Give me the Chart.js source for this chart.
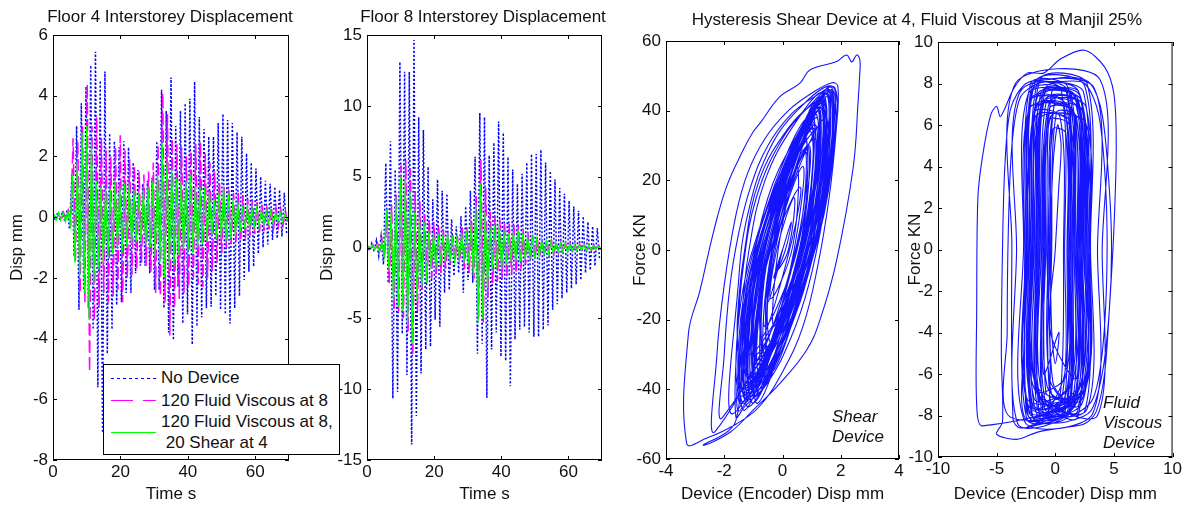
<!DOCTYPE html>
<html>
<head>
<meta charset="utf-8">
<script src="https://cdn.jsdelivr.net/npm/chart.js@4.4.1/dist/chart.umd.min.js"></script>
<style>
  body { margin: 0; width: 1184px; height: 505px; background: #fff; position: relative; overflow: hidden;
         font-family: 'Liberation Sans', Arial, sans-serif; color: #111; }
  canvas { position: absolute; top: 0; }
  .txt { position: absolute; font-size: 17px; line-height: 20px; white-space: nowrap; transform: translate(-50%, -50%); }
  .note { position: absolute; font-size: 17px; line-height: 20px; font-style: italic; white-space: nowrap; }
  #legend { position: absolute; left: 103px; top: 364px; width: 237px; height: 91px; box-sizing: border-box;
            border: 1px solid #000; background: #fff; z-index: 5; font-size: 17px; }
  #legend svg { position: absolute; left: 0; top: 0; }
  #legend span { position: absolute; left: 57px; white-space: nowrap; line-height: 20px; }
</style>
</head>
<body>
<canvas id="floor4" width="300" height="505" style="left:0px"></canvas>
<canvas id="floor8" width="314" height="505" style="left:300px"></canvas>
<canvas id="shear" width="297" height="505" style="left:611px"></canvas>
<canvas id="viscous" width="284" height="505" style="left:900px"></canvas>

<div class="txt" style="left:170px; top:17px">Floor 4 Interstorey Displacement</div>
<div class="txt" style="left:483px; top:17px">Floor 8 Interstorey Displacement</div>
<div class="txt" style="left:917px; top:20px">Hysteresis Shear Device at 4, Fluid Viscous at 8 Manjil 25%</div>
<div class="note" style="left:832px; top:407px">Shear<br>Device</div>
<div class="note" style="left:1103px; top:393px">Fluid<br>Viscous<br>Device</div>

<div id="legend">
  <svg width="235" height="89">
    <line x1="7" y1="13.5" x2="52" y2="13.5" stroke="#0000ff" stroke-width="1" stroke-dasharray="3 3"/>
    <line x1="7" y1="35.5" x2="52" y2="35.5" stroke="#ff00ff" stroke-width="1" stroke-dasharray="22 10"/>
    <line x1="7" y1="67.5" x2="52" y2="67.5" stroke="#00ff00" stroke-width="1"/>
  </svg>
  <span style="top:3px">No Device</span>
  <span style="top:26px">120 Fluid Viscous at 8</span>
  <span style="top:47px">120 Fluid Viscous at 8,</span>
  <span style="top:68px">&nbsp;20 Shear at 4</span>
</div>

<script>
// time base: peaks every half cycle
const halfCycle = 0.7;

const timeTicks = [0, 20, 40, 60];
const floor4Ticks = [-8, -6, -4, -2, 0, 2, 4, 6];
const floor8Ticks = [-15, -10, -5, 0, 5, 10, 15];
const shearDispTicks = [-4, -2, 0, 2, 4];
const shearForceTicks = [-60, -40, -20, 0, 20, 40, 60];
const viscDispTicks = [-10, -5, 0, 5, 10];
const viscForceTicks = [-10, -8, -6, -4, -2, 0, 2, 4, 6, 8, 10];

// Floor 4 interstorey displacement (mm), alternating peaks
const floor4NoDevice = [
  0.1, -0.1, 0.15, -0.1, 0.2, -0.15, 0.25, -0.4, 1.4, -1.3,
  3.0, -3.05, 3.75, -2.4, 4.3, -3.0, 5.0, -3.7, 5.45, -5.6,
  4.5, -7.1, 4.8, -4.5, 2.76, -3.7, 2.5, -2.9, 2.3, -2.8,
  2.5, -2.5, 2.3, -2.5, 1.8, -1.85, 1.55, -1.6, 1.1, -1.6,
  1.2, -1.85, 1.3, -2.4, 2.5, -2.4, 4.2, -3.0, 3.5, -3.8,
  4.6, -4.05, 3.0, -2.3, 3.5, -3.5, 3.75, -3.2, 3.9, -4.2,
  4.46, -3.6, 3.3, -3.3, 2.9, -3.0, 2.65, -2.95, 2.65, -2.6,
  3.1, -3.05, 3.4, -3.2, 3.2, -3.5, 3.1, -3.0, 2.8, -2.6,
  2.65, -2.07, 2.1, -1.8, 1.8, -1.63, 1.6, -1.2, 1.33, -1.0,
  1.2, -0.9, 1.1, -0.75, 1.0, -0.7, 0.9, -0.64, 0.8, -0.53
];
const floor4Viscous = [
  0.05, -0.05, 0.1, -0.1, 0.15, -0.1, 0.2, -0.3, 2.6, -1.5,
  2.5, -2.5, 3.0, -2.8, 4.4, -5.1, 3.0, -3.4, 3.3, -3.0,
  2.6, -2.5, 2.2, -2.8, 2.0, -2.6, 2.3, -2.4, 2.7, -2.8,
  2.2, -2.0, 1.9, -1.9, 1.7, -1.7, 1.5, -1.5, 1.4, -1.6,
  1.5, -1.8, 1.8, -2.5, 2.4, -2.6, 4.1, -2.8, 3.4, -3.9,
  2.6, -3.0, 2.4, -2.7, 2.3, -2.5, 2.0, -2.3, 2.2, -2.0,
  2.4, -2.2, 2.5, -2.3, 2.1, -2.0, 1.8, -1.8, 1.5, -1.5,
  1.2, -1.2, 1.0, -1.0, 0.9, -0.9, 0.8, -0.8, 0.8, -0.8,
  0.7, -0.7, 0.6, -0.6, 0.55, -0.55, 0.5, -0.5, 0.45, -0.45,
  0.4, -0.4, 0.35, -0.35, 0.3, -0.3, 0.25, -0.25, 0.2, -0.2
];
const floor4ViscousShear = [
  0.1, -0.1, 0.15, -0.1, 0.15, -0.15, 0.2, -0.25, 1.4, -1.5,
  1.8, -2.0, 2.8, -2.5, 3.0, -3.4, 2.5, -2.2, 1.2, -1.7,
  1.0, -1.5, 0.9, -1.3, 0.9, -1.2, 1.2, -1.0, 1.0, -1.2,
  1.1, -1.0, 1.1, -0.9, 0.9, -0.8, 0.8, -0.8, 0.9, -0.9,
  1.0, -1.0, 1.2, -1.3, 1.4, -1.5, 2.4, -2.0, 1.8, -1.7,
  1.6, -1.6, 1.3, -1.2, 1.2, -1.1, 1.2, -1.1, 1.4, -1.2,
  1.0, -1.0, 1.0, -0.9, 1.0, -0.8, 0.8, -0.6, 0.6, -0.7,
  0.8, -0.7, 1.0, -0.8, 0.8, -0.7, 0.6, -0.6, 0.5, -0.5,
  0.4, -0.4, 0.35, -0.35, 0.3, -0.3, 0.3, -0.3, 0.25, -0.25,
  0.2, -0.2, 0.2, -0.2, 0.15, -0.15, 0.15, -0.15, 0.1, -0.1
];

// Floor 8 interstorey displacement (mm), alternating peaks
const floor8NoDevice = [
  0.2, -0.2, 0.3, -0.3, 0.5, -0.6, 0.8, -1.2, 5.95, -2.5,
  7.5, -10.65, 5.5, -10.2, 13.1, -6.1, 12.4, -9.0, 12.4, -13.9,
  14.65, -11.9, 9.2, -8.9, 8.3, -7.2, 5.7, -7.0, 3.4, -5.1,
  4.8, -5.6, 4.0, -3.2, 3.8, -3.0, 2.0, -2.0, 1.5, -1.8,
  2.2, -3.2, 2.9, -2.3, 4.0, -2.5, 6.4, -7.5, 9.5, -6.8,
  9.2, -10.6, 6.5, -7.2, 7.4, -6.0, 8.9, -7.7, 8.1, -8.0,
  6.4, -9.8, 5.5, -6.5, 4.5, -5.8, 5.2, -5.6, 6.0, -6.0,
  6.6, -6.3, 6.6, -6.3, 6.9, -5.8, 6.0, -5.5, 5.4, -4.4,
  4.8, -4.0, 4.2, -3.6, 3.8, -3.2, 3.3, -2.9, 2.9, -2.6,
  2.6, -2.3, 2.2, -1.8, 1.8, -1.6, 1.5, -1.3, 1.35, -0.9
];
const floor8Viscous = [
  0.1, -0.1, 0.2, -0.2, 0.3, -0.4, 0.5, -0.8, 2.7, -2.5,
  3.0, -4.5, 3.8, -4.5, 5.8, -5.0, 6.2, -6.0, 5.5, -7.5,
  3.9, -4.5, 3.2, -3.0, 2.5, -2.5, 2.0, -2.2, 1.8, -2.0,
  1.6, -1.8, 1.3, -1.5, 1.0, -1.2, 0.9, -1.0, 0.8, -1.0,
  1.5, -1.5, 1.5, -1.8, 2.0, -2.2, 3.6, -4.9, 6.2, -5.3,
  4.2, -3.5, 2.5, -2.5, 2.2, -2.4, 2.0, -2.2, 1.8, -2.0,
  1.7, -1.9, 1.6, -1.8, 1.5, -1.5, 1.2, -1.2, 1.0, -1.0,
  0.8, -0.8, 0.6, -0.6, 0.55, -0.55, 0.5, -0.5, 0.45, -0.45,
  0.4, -0.4, 0.35, -0.35, 0.3, -0.3, 0.3, -0.3, 0.25, -0.25,
  0.25, -0.25, 0.2, -0.2, 0.2, -0.2, 0.15, -0.15, 0.15, -0.15
];
const floor8ViscousShear = [
  0.1, -0.1, 0.15, -0.15, 0.2, -0.3, 0.4, -0.6, 2.7, -1.5,
  2.5, -3.8, 3.5, -4.2, 5.0, -4.5, 4.8, -5.5, 4.0, -6.8,
  2.5, -3.8, 2.2, -2.8, 1.8, -2.5, 1.2, -1.5, 1.0, -1.5,
  1.0, -1.2, 0.9, -1.0, 1.0, -1.0, 0.8, -0.9, 0.7, -0.8,
  1.0, -1.0, 1.2, -1.2, 1.6, -2.0, 3.0, -5.3, 4.5, -5.0,
  2.5, -2.8, 1.5, -1.5, 1.6, -1.5, 1.6, -1.5, 1.2, -1.2,
  1.0, -1.0, 1.1, -1.0, 1.3, -1.0, 1.0, -0.8, 0.8, -0.7,
  0.7, -0.6, 0.6, -0.6, 0.5, -0.5, 0.45, -0.45, 0.4, -0.4,
  0.35, -0.35, 0.3, -0.3, 0.3, -0.3, 0.25, -0.25, 0.2, -0.2,
  0.2, -0.2, 0.2, -0.2, 0.15, -0.15, 0.15, -0.15, 0.1, -0.1
];

// Shear device trace: [disp mm, force kN]
const shearLoop = [
  [0, 0], [0.3, 8], [0.1, 0], [-0.3, -8], [0, 0],
  [-0.5, -15], [-0.35, 0], [0.6, 18], [0.3, 2],
  [-0.7, -25], [-0.55, -2], [0.8, 28], [0.5, 2],
  [-0.9, -32], [-0.65, 0], [1.0, 35], [0.6, 0],
  [-1.1, -38], [-0.85, -5], [1.2, 40], [0.8, 5],
  [-1.3, -41], [-1.0, -3], [1.4, 43], [0.9, 3],
  [-1.0, -44], [-0.75, 0], [1.5, 45], [1.1, 0],
  [-0.8, -40], [-0.55, -4], [1.3, 42], [1.0, 4],
  [-1.2, -36], [-0.95, 0], [0.9, 38], [0.7, 0],
  [-0.6, -30], [-0.45, 0], [1.1, 32], [0.8, -2],
  [-1.4, -42], [-1.1, -2], [1.6, 46], [1.2, 3],
  [-0.95, -41], [-0.7, -3], [1.3, 44], [0.95, 2],
  [-1.1, -43], [-0.85, -1], [1.45, 45], [1.05, 3],
  [-0.75, -36], [-0.5, -1], [1.15, 38], [0.8, 2],
  [-1.2, -42], [-0.9, -4], [1.5, 44], [1.1, 5],
  [-0.55, -31], [-0.35, 1], [0.95, 34], [0.65, 0],
  [-1.7, -47], [-1.5, -8], [-1.2, 10], [-0.5, 28], [0.5, 40], [1.7, 47], [1.75, 35], [1.5, 15], [1.1, 0],
  [-0.4, -35], [-0.3, 3], [1.0, 40], [0.75, -3],
  [-1.35, -40], [-1.05, -2], [1.25, 41], [0.9, 3],
  [-0.85, -44], [-0.6, -5], [1.55, 46], [1.15, 4],
  [-2.05, -48], [-2.0, -30], [-1.8, -10], [-1.5, 5], [-1.1, 18], [-0.5, 30], [0.3, 39], [1.1, 44], [1.8, 46.5],
  [1.75, 30], [1.4, 10], [0.9, -10], [0.3, -25], [-0.5, -38], [-1.3, -45],
  [-1.6, -48], [-1.55, -25], [-1.35, -5], [-0.9, 15], [0.0, 32], [1.0, 42], [1.6, 46], [1.5, 28], [1.1, 8],
  [0.5, -12], [-0.4, -30],
  [-1.0, -35], [-0.75, 0], [1.0, 37], [0.7, 1],
  [-2.3, -52], [-2.25, -30], [-2.0, -10], [-1.6, 10], [-1.2, 22], [-0.6, 32], [0.2, 40], [1.0, 45], [1.7, 48],
  [1.9, 47], [1.85, 35], [1.6, 15], [1.2, -5], [0.7, -22], [0.0, -35], [-0.8, -45], [-1.6, -50], [-2.6, -54],
  [-3.29, -55.5], [-3.23, -24], [-2.83, -11.5], [-2.38, 4.8], [-1.92, 18.2], [-1.35, 28.7], [-1.0, 34],
  [-0.77, 36.4], [-0.09, 44], [0.6, 47.9], [0.94, 51.7], [1.86, 54.1], [2.2, 56], [2.38, 54], [2.55, 56],
  [2.66, 54.4], [2.64, 48.8], [2.6, 43.1], [2.43, 23.9], [1.86, -2.9], [1.29, -20], [0.83, -28.7],
  [-0.09, -38.3], [-1.0, -45.9], [-1.8, -52.3], [-2.72, -56],
  [-1.6, -49], [-1.55, -20], [-1.3, 0], [-0.8, 20], [0.2, 35], [1.2, 43], [1.7, 45], [1.6, 25], [1.2, 5],
  [0.6, -15], [-0.3, -32], [-1.0, -42],
  [-0.65, -39], [-0.4, -2], [1.4, 42], [1.05, 1],
  [-1.15, -45], [-0.9, -6], [1.6, 47], [1.2, 5],
  [-0.9, -42], [-0.6, -6], [1.45, 38], [1.05, 4],
  [-1.15, -30], [-0.8, 2], [0.7, 34], [0.55, -1],
  [-1.45, -46], [-1.4, -20], [-1.15, 0], [-0.6, 20], [0.4, 36], [1.4, 45], [1.35, 25], [0.9, 3], [0.2, -18],
  [-0.45, -26], [-0.3, 0], [0.75, 29], [0.5, 1],
  [-1.25, -43], [-1.0, -3], [1.35, 43], [1.0, 4],
  [-1.4, -44], [-1.1, -10], [-0.5, 15], [0.5, 33], [1.4, 44], [1.3, 20], [0.8, 0], [0.1, -20],
  [-0.7, -38], [-0.45, 1], [1.25, 44], [0.95, -2],
  [-0.9, -38], [-0.65, -1], [1.2, 40], [0.85, 2],
  [-1.3, -44], [-1.05, -4], [1.2, 35], [0.85, 6],
  [-1.05, -42], [-0.8, -4], [1.5, 45], [1.1, 3],
  [-1.2, -40], [-0.9, -15], [-0.3, 10], [0.6, 30], [1.3, 40], [1.0, 15], [0.5, -5], [-0.3, -25],
  [-0.7, -33], [-0.5, 0], [1.05, 35], [0.75, 1],
  [-0.5, -28], [-0.25, 0], [0.85, 30], [0.6, 1],
  [-1.3, -46], [-1.05, -5], [1.65, 46], [1.25, 4],
  [-1.05, -40], [-0.8, -1], [1.35, 41], [1.0, 2],
  [-0.8, -41], [-0.55, -2], [1.3, 43], [0.95, 2],
  [-0.8, -33], [-0.6, -2], [0.95, 36], [0.7, 3],
  [-1.0, -39], [-0.7, -1], [1.15, 41], [0.8, 3],
  [-1.25, -39], [-0.95, -3], [1.1, 39], [0.8, 4],
  [-1.0, -37], [-0.7, -2], [1.1, 36], [0.7, 2],
  [-0.9, -30], [-0.5, 0], [0.9, 30], [0.5, 0],
  [-0.6, -22], [-0.3, 0], [0.7, 24], [0.4, 0],
  [-0.3, -22], [-0.15, 0], [0.5, 24], [0.35, 1],
  [-0.4, -14], [-0.2, 0], [0.4, 15], [0.2, 0],
  [-0.2, -6], [0, 0]
];

// Fluid viscous device trace: [disp mm, force kN]
const viscousLoop = [
  [0, 0], [0.3, 3], [0.5, 5], [0.2, 6], [-0.2, 4], [-0.4, 0], [-0.3, -4], [0, -5.5], [0.3, -4],
  [-1.0, -6.0], [-1.1, 0.2], [-0.7, 6.5], [1.0, 6.2], [1.2, -0.3], [0.9, -6.1],
  [-1.5, -6.8], [-1.6, 0.0], [-1.2, 7.0], [1.3, 6.8], [1.6, 0.1], [1.3, -6.6],
  [-1.8, -7.2], [-1.9, 0.3], [-1.5, 7.5], [1.7, 7.3], [2.0, -0.2], [1.7, -7.0],
  [-1.4, -7.3], [-1.5, 0.1], [-1.1, 7.1], [1.8, 6.9], [2.1, 0.0], [1.8, -7.1],
  [-2.2, -7.8], [-2.3, 0.1], [-1.9, 7.8], [2.0, 7.6], [2.3, 0.0], [2.0, -7.5],
  [-0.7, -6.6], [-0.8, 0.0], [-0.4, 6.4], [2.2, 6.2], [2.5, -0.1], [2.2, -6.4],
  [-1.2, -7.6], [-1.3, 0.2], [-0.9, 7.2], [2.3, 7.0], [2.6, -0.1], [2.3, -7.4],
  [-2.2, -7.9], [-2.3, -0.1], [-1.9, 7.7], [1.3, 7.5], [1.6, 0.1], [1.3, -7.7],
  [-2.4, -8.2], [-2.5, 0.0], [-2.1, 8.0], [1.1, 7.8], [1.4, 0.2], [1.1, -8.0],
  [-1.9, -8.1], [-2.0, 0.2], [-1.6, 7.0], [0.8, 6.8], [1.1, 0.0], [0.8, -7.9],
  [-2.0, -8.0], [-2.1, -0.2], [-1.7, 8.1], [2.5, 7.9], [2.8, 0.1], [2.5, -7.8],
  [-1.1, -7.0], [-1.2, -0.1], [-0.8, 7.8], [2.4, 7.6], [2.7, 0.1], [2.4, -6.8],
  [-0.8, -7.4], [-0.9, 0.1], [-0.5, 6.8], [1.6, 6.6], [1.9, -0.2], [1.6, -7.2],
  [-2.5, -8.2], [-2.6, -4], [-2.4, 2], [-2.0, 6], [-1.0, 7.5], [0.5, 7.8], [2.0, 7.6], [2.8, 5], [3.0, 1],
  [2.9, -3], [2.4, -6.5], [1.3, -7.8], [-0.3, -8.0], [-1.8, -8.3],
  [-2.5, -7.7], [-2.6, 0.0], [-2.2, 6.8], [1.6, 6.6], [1.9, -0.1], [1.6, -7.5],
  [-4.0, -8.0], [-4.1, -4], [-4.0, 1], [-3.7, 5], [-3.0, 7.3], [-1.5, 8.0], [0.5, 8.1], [2.5, 8.0], [3.7, 6.5],
  [4.3, 3], [4.4, -1], [4.0, -5], [3.2, -7.2], [1.5, -8.0], [-0.5, -8.2], [-2.5, -8.6],
  [-0.6, -7.9], [-0.7, 0.1], [-0.3, 7.6], [1.4, 7.4], [1.7, 0.0], [1.4, -7.7],
  [-3.2, -8.4], [-3.3, 0.0], [-3.0, 7.6], [3.3, 7.8], [3.6, 0.0], [3.2, -7.9],
  [-2.6, -8.3], [-2.7, 0.2], [-2.3, 7.5], [1.9, 7.3], [2.2, 0.0], [1.9, -8.1],
  [-1.6, -6.9], [-1.7, 0.0], [-1.3, 6.3], [2.6, 6.1], [2.9, 0.1], [2.6, -6.7],
  [-1.6, -7.9], [-1.7, -0.1], [-1.3, 8.2], [2.7, 8.0], [3.0, 0.2], [2.7, -7.7],
  [-2.3, -7.5], [-2.4, 0.1], [-2.0, 7.9], [0.5, 7.7], [0.8, -0.1], [0.5, -7.3],
  [-2.3, -8.0], [-2.4, 0.0], [-2.0, 7.3], [0.7, 7.1], [1.0, -0.1], [0.7, -7.8],
  [-1.0, -8.0], [-1.1, 0.0], [-0.7, 7.3], [1.9, 7.1], [2.2, 0.1], [1.9, -7.8],
  [-1.3, -7.1], [-1.4, 0.1], [-1.0, 7.6], [2.1, 7.4], [2.4, 0.0], [2.1, -6.9],
  [-6.2, -8.5], [-6.7, -7.5], [-6.7, -3], [-6.6, 2.5], [-6.2, 4.5], [-5.5, 6.5], [-5.0, 6.9], [-4.7, 6.4],
  [-4.3, 6.8], [-3.5, 7.8], [-2.4, 8.5], [-1.0, 8.5], [0.5, 9.2], [2.5, 9.6], [4.2, 8.8], [5.0, 7.5],
  [5.2, 5], [5.0, 1], [4.6, -3], [4.2, -6], [3.5, -7.8], [2.5, -8.4], [0.5, -8.6], [-1.5, -8.8],
  [-3.3, -9.15], [-5.0, -8.9],
  [-4.5, -8.3], [-4.6, -5], [-4.5, 0], [-4.3, 4], [-3.8, 6.8], [-2.5, 8.0], [-0.5, 8.2], [1.5, 8.3],
  [3.0, 8.0], [4.0, 6.5], [4.6, 3], [4.8, 0], [4.6, -3], [4.0, -6], [3.0, -7.8], [1.0, -8.3], [-1.0, -8.4],
  [-3.0, -8.6],
  [-3.6, -8.2], [-3.7, 0.1], [-3.4, 8.0], [3.8, 8.2], [4.0, 0.0], [3.6, -8.0],
  [-1.8, -6.7], [-1.9, -0.1], [-1.5, 7.4], [2.2, 7.2], [2.5, 0.0], [2.2, -6.5],
  [-0.9, -7.7], [-1.0, -0.2], [-0.6, 6.2], [1.2, 6.0], [1.5, 0.1], [1.2, -7.5],
  [-0.4, -7.4], [-0.5, 0.1], [-0.1, 6.9], [2.3, 6.7], [2.6, -0.1], [2.3, -7.2],
  [-1.7, -6.5], [-1.8, 0.1], [-1.4, 6.9], [1.5, 6.7], [1.8, -0.1], [1.5, -6.3],
  [-2.0, -7.6], [-2.1, 0.0], [-1.7, 6.4], [1.2, 6.2], [1.5, 0.1], [1.2, -7.4],
  [-0.5, -6.2], [-0.6, 0.0], [-0.2, 5.8], [0.9, 5.6], [1.1, 0.1], [0.8, -6.0],
  [-1.3, -8.1], [-1.4, 0.2], [-1.0, 7.7], [1.0, 7.5], [1.3, 0.0], [1.0, -7.9],
  [-2.1, -7.3], [-2.2, 0.1], [-1.8, 6.6], [0.4, 6.4], [0.7, -0.1], [0.4, -7.1],
  [-0.8, -6.9], [-0.9, -0.1], [-0.5, 7.1], [2.6, 6.9], [2.9, 0.0], [2.6, -6.7],
  [-0.3, -7.0], [-0.4, 0.2], [0.0, 7.3], [2.0, 7.1], [2.3, 0.0], [2.0, -6.8],
  [-2.4, -7.2], [-2.5, 0.1], [-2.1, 7.2], [0.9, 7.0], [1.2, -0.1], [0.9, -7.0],
  [-1.9, -7.6], [-2.0, 0.0], [-1.6, 7.9], [1.0, 7.7], [1.3, 0.1], [1.0, -7.4],
  [-1.5, -7.7], [-1.6, 0.0], [-1.2, 7.6], [1.7, 7.4], [2.0, 0.1], [1.7, -7.5],
  [-0.2, -6.4], [-0.3, 0.1], [0.1, 6.6], [1.8, 6.4], [2.1, 0.0], [1.8, -6.2],
  [-0.4, -4], [0, 0]
];

Chart.defaults.font.family = "'Liberation Sans', Arial, sans-serif";
Chart.defaults.font.size = 17;
Chart.defaults.color = '#111';

function toPoints(values, offset) {
  return values.map((v, i) => ({ x: i * halfCycle + offset, y: v }));
}

function toXY(pairs) {
  return pairs.map(p => ({ x: p[0], y: p[1] }));
}

// MATLAB style box with inward tick marks on all four sides
const boxTicks = {
  id: 'boxTicks',
  afterDatasetsDraw(chart) {
    const { ctx, chartArea: a, scales: { x, y } } = chart;
    const len = 4;
    ctx.save();
    ctx.strokeStyle = '#000';
    ctx.lineWidth = 1;
    ctx.beginPath();
    x.ticks.forEach(t => {
      const px = Math.round(x.getPixelForValue(t.value)) + 0.5;
      ctx.moveTo(px, a.bottom); ctx.lineTo(px, a.bottom - len);
      ctx.moveTo(px, a.top); ctx.lineTo(px, a.top + len);
    });
    y.ticks.forEach(t => {
      const py = Math.round(y.getPixelForValue(t.value)) + 0.5;
      ctx.moveTo(a.left, py); ctx.lineTo(a.left + len, py);
      ctx.moveTo(a.right, py); ctx.lineTo(a.right - len, py);
    });
    ctx.stroke();
    ctx.strokeRect(a.left + 0.5, a.top + 0.5, a.width - 1, a.height - 1);
    ctx.restore();
  }
};

function axes(o) {
  return {
    x: {
      type: 'linear', min: o.xMin, max: o.xMax,
      afterBuildTicks: s => { s.ticks = o.xTicks.map(v => ({ value: v })); },
      afterFit: s => { s.height = o.xHeight; },
      grid: { display: false, drawTicks: false },
      border: { display: false },
      ticks: { padding: 2, autoSkip: false, maxRotation: 0 },
      title: { display: true, text: o.xTitle, padding: { top: 0, bottom: 0 } }
    },
    y: {
      type: 'linear', min: o.yMin, max: o.yMax,
      afterBuildTicks: s => { s.ticks = o.yTicks.map(v => ({ value: v })); },
      afterFit: s => { s.width = o.yWidth; },
      grid: { display: false, drawTicks: false },
      border: { display: false },
      ticks: { padding: 5, autoSkip: false },
      title: { display: true, text: o.yTitle, padding: { top: 4, bottom: 0 } }
    }
  };
}

function baseOptions(o) {
  return {
    responsive: false,
    animation: false,
    events: [],
    devicePixelRatio: 1,
    layout: { padding: { left: o.padLeft, right: o.padRight, top: o.padTop, bottom: 0 } },
    plugins: { legend: { display: false }, tooltip: { enabled: false } },
    elements: { point: { radius: 0 } },
    scales: axes(o)
  };
}

function timeDatasets(noDevice, viscous, viscousShear) {
  return [
    { data: toPoints(noDevice, 0), borderColor: '#0000ff', borderWidth: 1.5, borderDash: [2, 2], order: 3 },
    { data: toPoints(viscous, 0.35), borderColor: '#ff00ff', borderWidth: 1.5, borderDash: [12, 5], order: 2 },
    { data: toPoints(viscousShear, 0.2), borderColor: '#00ff00', borderWidth: 1.3, order: 1 }
  ];
}

new Chart(document.getElementById('floor4'), {
  type: 'line',
  data: { datasets: timeDatasets(floor4NoDevice, floor4Viscous, floor4ViscousShear) },
  options: baseOptions({
    padLeft: 3, padRight: 11, padTop: 35, yWidth: 50, xHeight: 45,
    xMin: 0, xMax: 70, xTicks: timeTicks, xTitle: 'Time s',
    yMin: -8, yMax: 6, yTicks: floor4Ticks, yTitle: 'Disp mm'
  }),
  plugins: [boxTicks]
});

new Chart(document.getElementById('floor8'), {
  type: 'line',
  data: { datasets: timeDatasets(floor8NoDevice, floor8Viscous, floor8ViscousShear) },
  options: baseOptions({
    padLeft: 13, padRight: 12, padTop: 35, yWidth: 54, xHeight: 45,
    xMin: 0, xMax: 70, xTicks: timeTicks, xTitle: 'Time s',
    yMin: -15, yMax: 15, yTicks: floor8Ticks, yTitle: 'Disp mm'
  }),
  plugins: [boxTicks]
});

new Chart(document.getElementById('shear'), {
  type: 'line',
  data: {
    datasets: [{ data: toXY(shearLoop), borderColor: 'rgb(20,20,255)', borderWidth: 1.1, tension: 0.4 }]
  },
  options: baseOptions({
    padLeft: 15, padRight: 9, padTop: 41, yWidth: 40, xHeight: 46,
    xMin: -4, xMax: 4, xTicks: shearDispTicks, xTitle: 'Device (Encoder) Disp mm',
    yMin: -60, yMax: 60, yTicks: shearForceTicks, yTitle: 'Force KN'
  }),
  plugins: [boxTicks]
});

new Chart(document.getElementById('viscous'), {
  type: 'line',
  data: {
    datasets: [{ data: toXY(viscousLoop), borderColor: 'rgb(20,20,255)', borderWidth: 1.1, tension: 0.3 }]
  },
  options: baseOptions({
    padLeft: 1, padRight: 11, padTop: 42, yWidth: 37, xHeight: 48,
    xMin: -10, xMax: 10, xTicks: viscDispTicks, xTitle: 'Device (Encoder) Disp mm',
    yMin: -10, yMax: 10, yTicks: viscForceTicks, yTitle: 'Force KN'
  }),
  plugins: [boxTicks]
});
</script>
</body>
</html>
